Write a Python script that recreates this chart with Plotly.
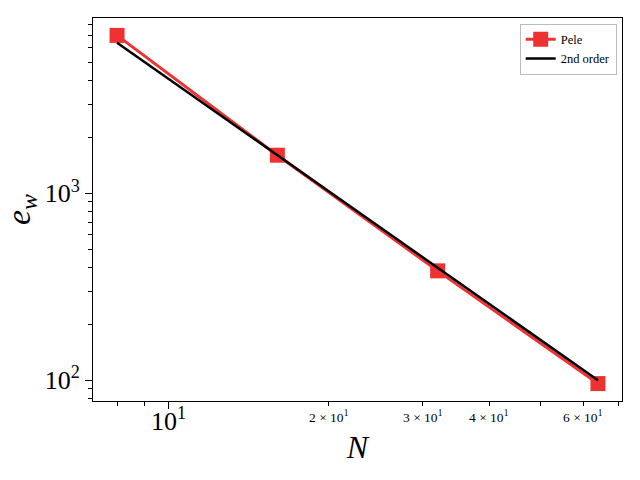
import numpy as np
import plotly.graph_objects as go

N = [8, 16, 32, 64]
pele = [7000, 1600, 385, 96]
second_order = [6400, 1600, 400, 100]

x_major = [10]
x_major_text = ["10<sup>1</sup>"]
x_minor_labeled = [20, 30, 40, 60]
x_minor_text = ["2 × 10<sup>1</sup>", "3 × 10<sup>1</sup>", "4 × 10<sup>1</sup>", "6 × 10<sup>1</sup>"]
x_minor = [8, 9, 20, 30, 40, 50, 60, 70]
y_major = [100, 1000]
y_major_text = ["10<sup>2</sup>", "10<sup>3</sup>"]
y_minor = [80, 90, 200, 300, 400, 500, 600, 700, 800, 900, 2000, 3000, 4000, 5000, 6000, 7000, 8000]

font = "Liberation Serif, DejaVu Serif, serif"
red = "rgb(238,50,50)"

fig = go.Figure()
fig.add_trace(go.Scatter(x=N, y=pele, mode="lines+markers", name="Pele",
                         line=dict(color=red, width=3),
                         marker=dict(symbol="square", size=15, color=red)))
fig.add_trace(go.Scatter(x=N, y=second_order, mode="lines", name="2nd order",
                         line=dict(color="black", width=2.5)))

lx = np.log10([min(N), max(N)])
dx = (lx[1] - lx[0]) * 0.05
allv = pele + second_order
ly = np.log10([min(allv), max(allv)])
dy = (ly[1] - ly[0]) * 0.05

for v, t in zip(x_minor_labeled, x_minor_text):
    fig.add_annotation(x=np.log10(v), y=0, xref="x", yref="paper", text=t,
                       showarrow=False, yanchor="top", yshift=-5,
                       font=dict(size=13.5, family=font, color="black"))

fig.update_layout(
    width=640, height=480,
    margin=dict(l=93, r=18, t=18, b=79),
    paper_bgcolor="white", plot_bgcolor="white",
    font=dict(family=font, color="black"),
    showlegend=True,
    legend=dict(x=0.99, y=0.985, xanchor="right", yanchor="top",
                bgcolor="white", bordercolor="#bbbbbb", borderwidth=1,
                font=dict(size=12.5, family=font), tracegroupgap=0),
    xaxis=dict(type="log", range=[lx[0] - dx, lx[1] + dx], automargin=False,
               tickvals=x_major, ticktext=x_major_text, tickfont=dict(size=26, family=font),
               ticklabelstandoff=-10,
               ticks="outside", ticklen=7, tickwidth=1,
               tickcolor="black", showgrid=False, zeroline=False,
               showline=True, linecolor="black", linewidth=1, mirror=True,
               minor=dict(tickvals=x_minor, ticks="outside", ticklen=4, tickcolor="black", showgrid=False),
               title=dict(text="<i>N</i>", font=dict(size=32, family=font), standoff=0)),
    yaxis=dict(type="log", range=[ly[0] - dy, ly[1] + dy], automargin=False,
               tickvals=y_major, ticktext=y_major_text, tickfont=dict(size=26, family=font),
               ticks="outside", ticklen=7, tickwidth=1, tickcolor="black",
               showgrid=False, zeroline=False,
               showline=True, linecolor="black", linewidth=1, mirror=True,
               minor=dict(tickvals=y_minor, ticks="outside", ticklen=4, tickcolor="black", showgrid=False),
               title=dict(text="<i>e<sub>w</sub></i>", font=dict(size=34, family=font), standoff=6)),
)

fig.write_html("out.html", config={"displayModeBar": False},
               post_script="document.body.style.margin='0';")
